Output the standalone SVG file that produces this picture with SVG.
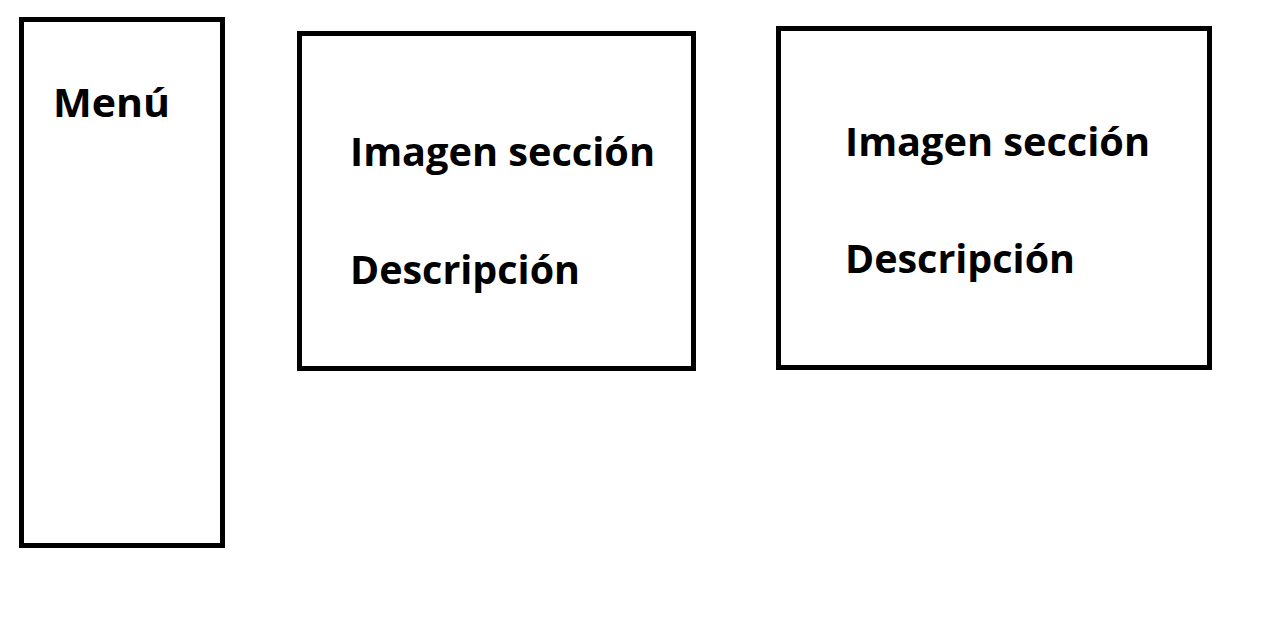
<svg xmlns="http://www.w3.org/2000/svg" width="1268" height="628" viewBox="0 0 1268 628">
<style>
.box{fill:#fff;stroke:#000;stroke-width:5}
.t{font-family:"Open Sans","Noto Sans","Liberation Sans",sans-serif;font-weight:bold;font-size:40px;fill:#000}
</style>
<rect width="1268" height="628" fill="#fff"/>
<g id="menu">
<rect class="box" x="21.5" y="19.5" width="201" height="526"/>
<text class="t" x="53" y="117" textLength="117" lengthAdjust="spacingAndGlyphs">Menú</text>
</g>
<g id="seccion1">
<rect class="box" x="299.5" y="33.5" width="394" height="335"/>
<text class="t" x="350" y="166" textLength="305" lengthAdjust="spacingAndGlyphs">Imagen sección</text>
<text class="t" x="350" y="284" textLength="230" lengthAdjust="spacingAndGlyphs">Descripción</text>
</g>
<g id="seccion2">
<rect class="box" x="778.5" y="28.5" width="431" height="339"/>
<text class="t" x="845" y="156" textLength="305" lengthAdjust="spacingAndGlyphs">Imagen sección</text>
<text class="t" x="845" y="273" textLength="230" lengthAdjust="spacingAndGlyphs">Descripción</text>
</g>
<g id="connectors"/>
</svg>
